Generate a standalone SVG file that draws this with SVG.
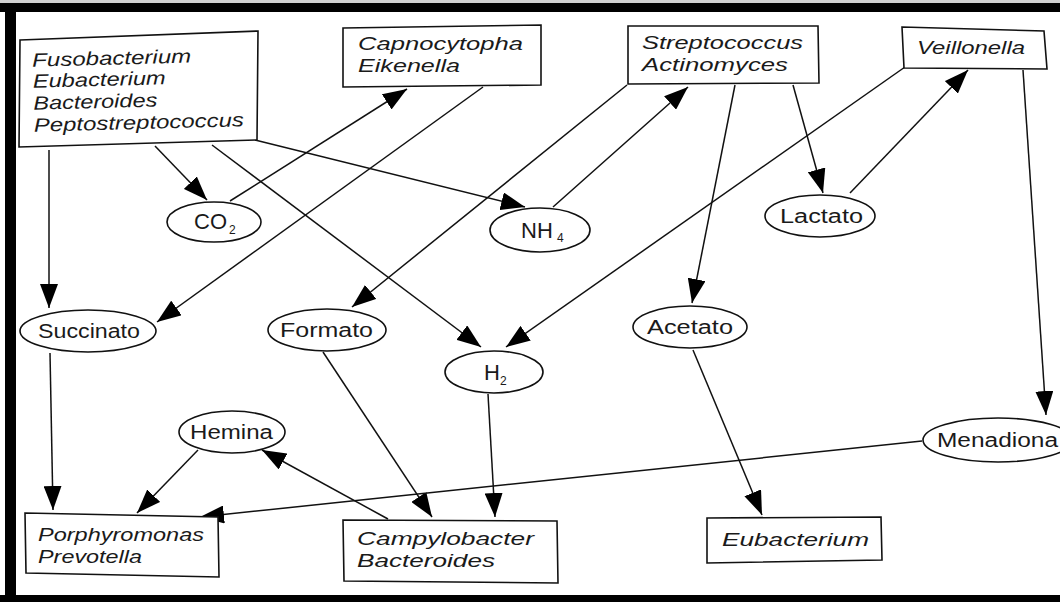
<svg xmlns="http://www.w3.org/2000/svg" width="1060" height="602" viewBox="0 0 1060 602">
<defs>
<style>
.box{fill:#fff;stroke:#111;stroke-width:1.6}
.ell{fill:#fff;stroke:#111;stroke-width:1.6}
.bt{font-family:"Liberation Sans",Arial,sans-serif;font-style:italic;font-size:19px;fill:#1a1a1a}
.et{font-family:"Liberation Sans",Arial,sans-serif;font-size:20px;fill:#1a1a1a}
.ft{font-family:"Liberation Sans",Arial,sans-serif;font-size:22px;fill:#1a1a1a}
.sub{font-family:"Liberation Sans",Arial,sans-serif;font-size:12px;fill:#1a1a1a}
.con line{stroke:#111;stroke-width:1.5;marker-end:url(#ah)}
</style>
<marker id="ah" markerUnits="userSpaceOnUse" markerWidth="24" markerHeight="18" refX="24" refY="9" orient="auto">
<path d="M0,0 L24,9 L0,18 z" fill="#000"/>
</marker>
</defs>
<rect width="1060" height="602" fill="#fff"/>
<g id="frame">
<rect x="0" y="0" width="1060" height="3" fill="#cfcfcf"/>
<rect x="0" y="3" width="1060" height="9" fill="#000"/>
<rect x="5" y="3" width="11" height="599" fill="#000"/>
<rect x="0" y="595" width="1060" height="7" fill="#000"/>
</g>
<g class="con" id="connectors">
<line x1="49" y1="150" x2="49" y2="308"/>
<line x1="155" y1="146" x2="207" y2="200"/>
<line x1="212" y1="145" x2="481" y2="347"/>
<line x1="255" y1="140" x2="525" y2="207"/>
<line x1="230" y1="201" x2="407" y2="89"/>
<line x1="483" y1="87" x2="157" y2="322"/>
<line x1="627" y1="85" x2="352" y2="307"/>
<line x1="553" y1="207" x2="688" y2="87"/>
<line x1="735" y1="85" x2="692" y2="303"/>
<line x1="793" y1="85" x2="823" y2="193"/>
<line x1="850" y1="193" x2="968" y2="70"/>
<line x1="905" y1="67" x2="506" y2="347"/>
<line x1="1023" y1="70" x2="1046" y2="415"/>
<line x1="50" y1="353" x2="53" y2="510"/>
<line x1="323" y1="352" x2="432" y2="517"/>
<line x1="488" y1="394" x2="495" y2="517"/>
<line x1="693" y1="350" x2="762" y2="515"/>
<line x1="922" y1="441" x2="200" y2="517"/>
<line x1="388" y1="519" x2="262" y2="450"/>
<line x1="198" y1="450" x2="137" y2="513"/>
</g>
<g id="fuso">
<polygon class="box" points="20,40 258,31 257,140 19,147"/>
<g transform="rotate(-1.5 138 90)">
<text class="bt" x="33" y="64" textLength="159" lengthAdjust="spacingAndGlyphs">Fusobacterium</text>
<text class="bt" x="33" y="85" textLength="133" lengthAdjust="spacingAndGlyphs">Eubacterium</text>
<text class="bt" x="33" y="107" textLength="124" lengthAdjust="spacingAndGlyphs">Bacteroides</text>
<text class="bt" x="33" y="129" textLength="210" lengthAdjust="spacingAndGlyphs">Peptostreptococcus</text>
</g>
</g>
<g id="capno">
<polygon class="box" points="343,28 541,25 541,85 343,87"/>
<text class="bt" x="358" y="50" textLength="165" lengthAdjust="spacingAndGlyphs">Capnocytopha</text>
<text class="bt" x="358" y="72" textLength="102" lengthAdjust="spacingAndGlyphs">Eikenella</text>
</g>
<g id="strepto">
<polygon class="box" points="628,26 818,26 819,83 628,84"/>
<text class="bt" x="642" y="49" textLength="161" lengthAdjust="spacingAndGlyphs">Streptococcus</text>
<text class="bt" x="642" y="71" textLength="146" lengthAdjust="spacingAndGlyphs">Actinomyces</text>
</g>
<g id="veillonella">
<polygon class="box" points="902,27 1044,31 1047,69 904,68"/>
<text class="bt" x="917" y="54" textLength="108" lengthAdjust="spacingAndGlyphs">Veillonella</text>
</g>
<g id="co2">
<ellipse class="ell" cx="214" cy="222" rx="47" ry="20"/>
<text class="ft" x="194" y="229">CO</text>
<text class="sub" x="229" y="234">2</text>
</g>
<g id="nh4">
<ellipse class="ell" cx="540" cy="230" rx="50" ry="22"/>
<text class="ft" x="521" y="238">NH</text>
<text class="sub" x="557" y="242">4</text>
</g>
<g id="lactato">
<ellipse class="ell" cx="820" cy="216" rx="55" ry="21"/>
<text class="et" x="780" y="223" textLength="83" lengthAdjust="spacingAndGlyphs">Lactato</text>
</g>
<g id="succinato">
<ellipse class="ell" cx="88" cy="331" rx="68" ry="21"/>
<text class="et" x="38" y="338" textLength="102" lengthAdjust="spacingAndGlyphs">Succinato</text>
</g>
<g id="formato">
<ellipse class="ell" cx="327" cy="330" rx="59" ry="21"/>
<text class="et" x="280" y="337" textLength="93" lengthAdjust="spacingAndGlyphs">Formato</text>
</g>
<g id="acetato">
<ellipse class="ell" cx="690" cy="327" rx="57" ry="21"/>
<text class="et" x="647" y="334" textLength="86" lengthAdjust="spacingAndGlyphs">Acetato</text>
</g>
<g id="h2">
<ellipse class="ell" cx="494" cy="372" rx="49" ry="21"/>
<text class="ft" x="484" y="380">H</text>
<text class="sub" x="500" y="385">2</text>
</g>
<g id="hemina">
<ellipse class="ell" cx="232" cy="432" rx="53" ry="21"/>
<text class="et" x="190" y="439" textLength="83" lengthAdjust="spacingAndGlyphs">Hemina</text>
</g>
<g id="menadiona">
<ellipse class="ell" cx="998" cy="440" rx="75" ry="22"/>
<text class="et" x="937" y="447" textLength="121" lengthAdjust="spacingAndGlyphs">Menadiona</text>
</g>
<g id="porphyromonas">
<polygon class="box" points="25,513 218,517 219,577 26,573"/>
<text class="bt" x="38" y="541" textLength="166" lengthAdjust="spacingAndGlyphs">Porphyromonas</text>
<text class="bt" x="38" y="563" textLength="104" lengthAdjust="spacingAndGlyphs">Prevotella</text>
</g>
<g id="campylobacter">
<polygon class="box" points="343,520 557,521 558,583 344,581"/>
<text class="bt" x="357" y="545" textLength="177" lengthAdjust="spacingAndGlyphs">Campylobacter</text>
<text class="bt" x="357" y="567" textLength="138" lengthAdjust="spacingAndGlyphs">Bacteroides</text>
</g>
<g id="eubacterium">
<polygon class="box" points="707,518 881,517 882,560 707,563"/>
<text class="bt" x="722" y="546" textLength="147" lengthAdjust="spacingAndGlyphs">Eubacterium</text>
</g>
</svg>
